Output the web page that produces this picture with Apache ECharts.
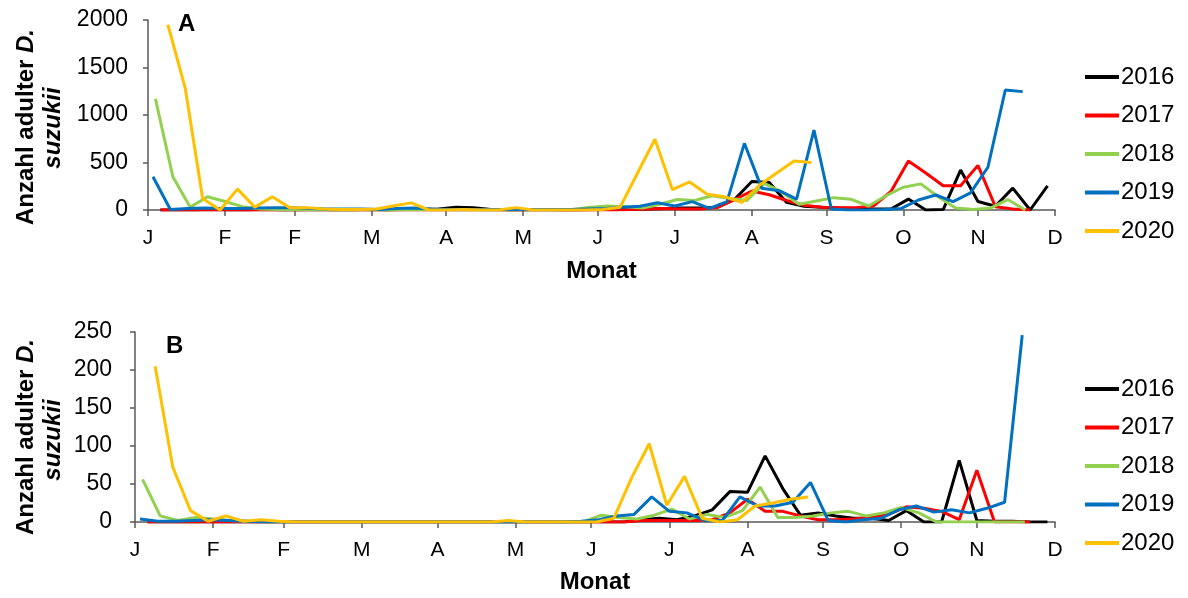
<!DOCTYPE html>
<html>
<head>
    <meta charset="utf-8">
    <title>Anzahl adulter D. suzukii</title>
    <script src="https://cdn.jsdelivr.net/npm/echarts/dist/echarts.min.js"></script>
    <style type="text/css">
        body { margin: 0; background: #fff; }
        #main { width: 1188px; height: 598px; }
    </style>
</head>
<body>
    <div id="main"></div>
    <script type="text/javascript">
        // Monatsanfaenge (Tag im Jahr) und Beschriftung wie im Original
        var monthDays = [0, 31, 59, 90, 120, 151, 181, 212, 243, 273, 304, 334, 365];
        var monthLabels = ['J', 'F', 'F', 'M', 'A', 'M', 'J', 'J', 'A', 'S', 'O', 'N', 'D'];

        var years = ['2016', '2017', '2018', '2019', '2020'];
        // erster Fangtag je Jahr, danach woechentlich
        var startDay = [5, 5, 3, 2, 8];

        // Panel A
        var a2016 = [0, 0, 0, 5, 0, 0, 5, 0, 0, 5, 0, 0, 5, 0, 5, 5,
            10, 30, 25, 5,
            0, 0, 5, 0, 0, 5, 5, 5,
            10, 15, 20, 20, 30, 110, 300, 290, 80, 40, 30, 20, 15, 10, 10, 115, 0, 5, 420, 90, 40, 230, 0, 255];
        var a2017 = [0, 0, 0, 0, 0, 0, 0, 0, 0, 0, 0, 0, 0, 0, 0, 0, 0, 0, 0, 0, 0, 0, 0, 0, 0, 0, 0,
            5, 10, 15, 10, 10, 25, 110, 200, 160, 100, 50, 30, 25, 25, 45, 195, 515, 390, 255, 255, 470, 35, 10, 0];
        var a2018 = [1170, 350, 30, 140, 90, 35, 10, 5,
            0, 5, 0, 0, 5, 0, 0, 0, 5, 0, 0, 0, 0, 5, 0, 0, 5,
            30, 42, 35, 20, 60, 110, 100, 150, 120, 100, 280, 190, 60, 95, 130, 112, 42, 150, 240, 275, 140, 20, 5, 20, 110, 0];
        var a2019 = [350, 5, 15, 20, 15, 15, 20, 25, 25, 15, 10, 10, 10, 5, 15, 20, 10, 5, 5, 5, 5, 5, 5, 5, 5, 10, 15,
            28, 40, 77, 42, 88, 18, 88, 702, 228, 203, 115, 842, 10, 0, 0, 5, 15, 105, 158, 88, 180, 450, 1263, 1246];
        var a2020 = [1950, 1280, 120, 0, 220, 30, 140, 25, 25, 10, 5, 5, 10, 45, 75, 0, 0, 5, 0, 0, 25, 0, 0, 0, 0, 5,
            30, 390, 745, 215, 295, 165, 140, 80, 260, 390, 515, 500];

        // Panel B
        var b2016 = [0, 0, 0, 0, 0, 0, 0, 0, 0, 0, 0, 0, 0, 0, 0, 0, 0, 0, 0, 0, 0, 0, 0, 0, 0, 0, 0, 0,
            3, 5, 3, 8, 16, 40, 39, 87, 44, 9, 12, 8, 5, 5, 2, 15, 0, 0, 81, 2, 1, 1, 0, 0];
        var b2017 = [0, 0, 0, 0, 0, 0, 0, 0, 0, 0, 0, 0, 0, 0, 0, 0, 0, 0, 0, 0, 0, 0, 0, 0, 0, 0, 0, 0,
            2, 2, 2, 2, 3, 12, 30, 14, 14, 8, 3, 3, 4, 6, 10, 20, 18, 14, 3, 68, 0, 0, 0];
        var b2018 = [56, 8, 2, 6, 4, 2, 1,
            0, 0, 0, 0, 0, 0, 0, 0, 0, 0, 0, 0, 0, 0, 0, 0, 0, 0, 0,
            9, 6, 4, 9, 17, 4, 10, 6, 15, 46, 6, 6, 8, 12, 14, 8, 12, 19, 12, 0, 0, 0, 0, 0, 0];
        var b2019 = [4, 1, 1, 2, 3, 2, 1,
            0, 0, 0, 0, 0, 0, 0, 0, 0, 0, 0, 0, 0, 0, 0, 0, 0, 0, 1,
            3, 8, 10, 33, 14, 12, 2, 2, 33, 21, 21, 26, 52, 2, 0, 3, 5, 16, 21, 13, 16, 12, 18, 26, 246];
        var b2020 = [205, 72, 15, 1, 8, 1, 3, 1,
            0, 0, 0, 0, 0, 0, 0, 0, 0, 0, 0, 0,
            2, 0, 0, 0, 0, 0,
            5, 58, 103, 22, 60, 5, 0, 3, 21, 25, 30, 33];

        var panels = [
            [a2016, a2017, a2018, a2019, a2020],
            [b2016, b2017, b2018, b2019, b2020]
        ];
        var colors = ['#000000', '#FF0000', '#92D050', '#0070C0', '#FFC000'];
        var font = 'Liberation Sans, Arial, sans-serif';
        var axisColor = '#595959';

        function xAxis(gridIndex, nameGap) {
            return {
                type: 'value', gridIndex: gridIndex, min: 0, max: 365,
                name: 'Monat', nameLocation: 'middle', nameGap: nameGap,
                nameTextStyle: { fontFamily: font, fontSize: 24, fontWeight: 'bold', color: '#000' },
                axisLine: { lineStyle: { color: axisColor, width: 1.5 } },
                axisTick: { customValues: monthDays, length: 6, lineStyle: { color: axisColor, width: 1.5 } },
                axisLabel: {
                    customValues: monthDays, margin: 18, fontSize: 21, color: '#000', fontFamily: font,
                    formatter: function (v) { return monthLabels[monthDays.indexOf(v)]; }
                },
                splitLine: { show: false }
            };
        }

        function yAxis(gridIndex, max, interval, margin) {
            return {
                type: 'value', gridIndex: gridIndex, min: 0, max: max, interval: interval,
                axisLine: { show: true, lineStyle: { color: axisColor, width: 1.5 } },
                axisTick: { show: true, length: 5, lineStyle: { color: axisColor, width: 1.5 } },
                axisLabel: {
                    margin: margin, fontSize: 23, color: '#000', fontFamily: font,
                    formatter: function (v) { return String(v); }
                },
                splitLine: { show: false }
            };
        }

        // Achsentitel (zweizeilig, gedreht)
        var richTitle = {
            n: { fontFamily: font, fontSize: 24, fontWeight: 'bold', fill: '#000' },
            i: { fontFamily: font, fontSize: 24, fontWeight: 'bold', fontStyle: 'italic', fill: '#000' }
        };
        function yTitle(x, y, text) {
            return {
                type: 'text', x: x, y: y, rotation: Math.PI / 2,
                style: { text: text, rich: richTitle, align: 'center', verticalAlign: 'middle' }
            };
        }

        var series = [];
        panels.forEach(function (rows, p) {
            rows.forEach(function (vals, i) {
                series.push({
                    name: years[i], type: 'line', xAxisIndex: p, yAxisIndex: p,
                    symbol: 'none', silent: true,
                    lineStyle: { width: 3, color: colors[i] },
                    itemStyle: { color: colors[i] },
                    data: vals.map(function (v, k) { return [startDay[i] + 7 * k, v]; })
                });
            });
        });

        function legend(top) {
            return {
                orient: 'vertical', left: 1085, top: top, padding: 0,
                icon: 'rect', itemWidth: 34, itemHeight: 4, itemGap: 14.5,
                data: years, selectedMode: false,
                textStyle: { fontFamily: font, fontSize: 24, lineHeight: 24, color: '#000', padding: [0, 0, 0, -3] }
            };
        }

        var myChart = echarts.init(document.getElementById('main'));
        myChart.setOption({
            animation: false,
            backgroundColor: '#fff',
            grid: [
                { left: 148, top: 20, width: 907, height: 190 },
                { left: 135, top: 332, width: 920, height: 190 }
            ],
            xAxis: [xAxis(0, 49), xAxis(1, 48)],
            yAxis: [yAxis(0, 2000, 500, 20), yAxis(1, 250, 50, 23)],
            legend: [legend(65), legend(377)],
            graphic: [
                { type: 'text', left: 178, top: 12, style: { text: 'A', fontFamily: font, fontSize: 24, fontWeight: 'bold', fill: '#000' } },
                { type: 'text', left: 166, top: 334, style: { text: 'B', fontFamily: font, fontSize: 24, fontWeight: 'bold', fill: '#000' } },
                yTitle(26, 127, '{n|Anzahl adulter }{i|D.}'),
                yTitle(53, 128, '{i|suzukii}'),
                yTitle(26, 437, '{n|Anzahl adulter }{i|D.}'),
                yTitle(53, 440, '{i|suzukii}')
            ],
            series: series
        });
    </script>
</body>
</html>
